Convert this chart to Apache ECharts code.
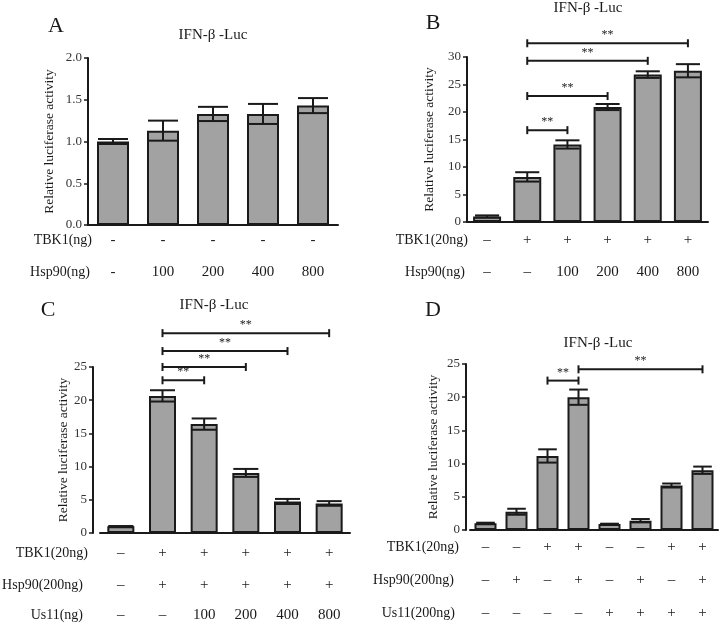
<!DOCTYPE html>
<html>
<head>
<meta charset="utf-8">
<script src="https://cdn.jsdelivr.net/npm/echarts@6/dist/echarts.min.js"></script>
<style>
  html, body { margin: 0; padding: 0; background: #fff; }
  #chart { width: 720px; height: 623px; }
</style>
</head>
<body>
<div id="chart"></div>
<script>
// ---- data ----
// panel A
var aMean = [1.0, 1.13, 1.33, 1.33, 1.43];
var aErr  = [0.03, 0.12, 0.085, 0.12, 0.09];
var aTbk1 = ['-', '-', '-', '-', '-'];
var aHsp90 = ['-', '100', '200', '400', '800'];

// panel B
var bMean = [1.0, 8.2, 14.1, 20.9, 26.8, 27.5];
var bErr  = [0.2, 0.85, 0.75, 0.55, 0.6, 1.2];
var bTbk1 = ['–', '+', '+', '+', '+', '+'];
var bHsp90 = ['–', '–', '100', '200', '400', '800'];
var bSig = [[1, 2, 16.7], [1, 3, 22.9], [1, 4, 29.3], [1, 5, 32.5]];

// panel C
var cMean = [1.0, 20.65, 16.4, 9.05, 4.75, 4.45];
var cErr  = [0.05, 0.85, 0.85, 0.6, 0.38, 0.35];
var cTbk1 = ['–', '+', '+', '+', '+', '+'];
var cHsp90 = ['–', '+', '+', '+', '+', '+'];
var cUs11 = ['–', '–', '100', '200', '400', '800'];
var cSig = [[1, 5, 30.1], [1, 4, 27.4], [1, 3, 25.0], [1, 2, 23.0]];

// panel D
var dMean = [1.0, 2.75, 11.15, 20.0, 0.9, 1.4, 6.7, 9.0];
var dErr  = [0.1, 0.45, 1.0, 1.15, 0.05, 0.25, 0.3, 0.55];
var dTbk1 = ['–', '–', '+', '+', '–', '–', '+', '+'];
var dHsp90 = ['–', '+', '–', '+', '–', '+', '–', '+'];
var dUs11 = ['–', '–', '–', '–', '+', '+', '+', '+'];
var dSig = [[2, 3, 22.5], [3, 7, 24.2]];

var FONT = 'Liberation Serif, Times New Roman, serif';
var INK = '#1a1a1a';

var grids = [], xAxes = [], yAxes = [], series = [];

// error bar: stem + two caps, drawn as filled rects
function errItem(params, api) {
  var lo = api.coord([api.value(0), api.value(1)]);
  var hi = api.coord([api.value(0), api.value(2)]);
  var half = api.size([1, 0])[0] * 0.3;
  var st = { fill: INK };
  return {
    type: 'group', children: [
      { type: 'rect', z2: 10, shape: { x: lo[0] - 1, y: hi[1], width: 2, height: lo[1] - hi[1] }, style: st },
      { type: 'rect', z2: 10, shape: { x: lo[0] - half, y: lo[1] - 1, width: half * 2, height: 2 }, style: st },
      { type: 'rect', z2: 10, shape: { x: hi[0] - half, y: hi[1] - 1, width: half * 2, height: 2 }, style: st }
    ]
  };
}

function sigItem(params, api) {
  var a = api.coord([api.value(0), api.value(2)]);
  var b = api.coord([api.value(1), api.value(2)]);
  var y = a[1];
  var st = { stroke: INK, lineWidth: 2 };
  return {
    type: 'group', children: [
      { type: 'line', shape: { x1: a[0], y1: y, x2: b[0], y2: y }, style: st },
      { type: 'line', shape: { x1: a[0], y1: y - 4, x2: a[0], y2: y + 4 }, style: st },
      { type: 'line', shape: { x1: b[0], y1: y - 4, x2: b[0], y2: y + 4 }, style: st },
      {
        type: 'text', x: (a[0] + b[0]) / 2, y: y - 2,
        style: { text: '**', align: 'center', verticalAlign: 'bottom', font: '12px ' + FONT, fill: INK }
      }
    ]
  };
}

// one panel = grid + main x axis + row-label x axes + y axis + series
function addPanel(p) {
  var gi = grids.length;
  grids.push({ left: p.left, top: p.top, width: p.width, height: p.height, containLabel: false, outerBoundsMode: 'none' });
  var cats = p.mean.map(function (v, i) { return String(i); });
  var xi = xAxes.length;
  xAxes.push({
    type: 'category', gridIndex: gi, data: cats, position: 'bottom',
    axisLine: { lineStyle: { color: INK, width: 2 } },
    axisTick: { alignWithLabel: true, length: 4, lineStyle: { color: INK, width: 1.5 } },
    axisLabel: { show: false }
  });
  p.rows.forEach(function (r) {
    xAxes.push({
      type: 'category', gridIndex: gi, data: r.labels, position: 'bottom', offset: r.offset,
      axisLine: { show: false }, axisTick: { show: false },
      axisLabel: { margin: 0, verticalAlign: 'middle', fontSize: 15, fontFamily: FONT, color: INK, interval: 0 },
      name: r.name, nameLocation: 'start', nameGap: r.gap,
      nameTextStyle: { fontSize: 14, fontFamily: FONT, color: INK, verticalAlign: 'middle' }
    });
  });
  var yi = yAxes.length;
  yAxes.push({
    type: 'value', gridIndex: gi, min: 0, max: p.max, interval: p.interval, offset: p.yOffset || 0,
    splitLine: { show: false },
    axisLine: { show: true, lineStyle: { color: INK, width: 2 } },
    axisTick: { show: true, length: 4, lineStyle: { color: INK, width: 1.5 } },
    axisLabel: { fontSize: 13, fontFamily: FONT, color: '#333', margin: 6,
      formatter: function (v) { return p.decimals ? v.toFixed(p.decimals) : String(v); } },
    name: 'Relative luciferase activity', nameLocation: 'middle', nameGap: p.nameGap,
    nameTextStyle: { fontSize: 13.5, fontFamily: FONT, color: INK }
  });
  series.push({
    type: 'bar', xAxisIndex: xi, yAxisIndex: yi, barWidth: p.barWidth, data: p.mean, z: 2,
    itemStyle: { color: '#a2a2a2', borderColor: INK, borderWidth: 2 }, silent: true
  });
  series.push({
    type: 'custom', xAxisIndex: xi, yAxisIndex: yi, renderItem: errItem, silent: true,
    encode: { x: 0, y: [1, 2] }, z: 10, clip: false,
    data: p.mean.map(function (m, i) { return [i, m - p.err[i], m + p.err[i]]; })
  });
  if (p.sig) {
    series.push({
      type: 'custom', xAxisIndex: xi, yAxisIndex: yi, renderItem: sigItem, silent: true,
      encode: { x: [0, 1], y: 2 }, clip: false, z: 10, data: p.sig
    });
  }
}

addPanel({
  left: 88, top: 58, width: 250, height: 167, max: 2, interval: 0.5, decimals: 1,
  nameGap: 32, barWidth: 32, mean: aMean, err: aErr,
  rows: [
    { name: 'TBK1(ng)', labels: aTbk1, offset: 15, gap: -4 },
    { name: 'Hsp90(ng)', labels: aHsp90, offset: 47, gap: -2 }
  ]
});
addPanel({
  left: 467, top: 57, width: 241, height: 165, max: 30, interval: 5,
  nameGap: 31, barWidth: 28, mean: bMean, err: bErr, sig: bSig,
  rows: [
    { name: 'TBK1(20ng)', labels: bTbk1, offset: 18, gap: -1 },
    { name: 'Hsp90(ng)', labels: bHsp90, offset: 50, gap: 2 }
  ]
});
addPanel({
  left: 100, top: 367, width: 250, height: 166, max: 25, interval: 5, yOffset: 7,
  nameGap: 23, barWidth: 27, mean: cMean, err: cErr, sig: cSig,
  rows: [
    { name: 'TBK1(20ng)', labels: cTbk1, offset: 20, gap: 12 },
    { name: 'Hsp90(200ng)', labels: cHsp90, offset: 52, gap: 17 },
    { name: 'Us11(ng)', labels: cUs11, offset: 82, gap: 17 }
  ]
});
addPanel({
  left: 470, top: 364, width: 248, height: 166, max: 25, interval: 5, yOffset: 4,
  nameGap: 26, barWidth: 22, mean: dMean, err: dErr, sig: dSig,
  rows: [
    { name: 'TBK1(20ng)', labels: dTbk1, offset: 17, gap: 11 },
    { name: 'Hsp90(200ng)', labels: dHsp90, offset: 50, gap: 16 },
    { name: 'Us11(200ng)', labels: dUs11, offset: 83, gap: 15 }
  ]
});

function label(x, y, text, size) {
  return {
    type: 'text', x: x, y: y, silent: true,
    style: { text: text, font: size + 'px ' + FONT, fill: INK, align: 'center', verticalAlign: 'middle',
      textAlign: 'center', textVerticalAlign: 'middle' }
  };
}

var chart = echarts.init(document.getElementById('chart'));
chart.setOption({
  animation: false,
  backgroundColor: '#fff',
  textStyle: { fontFamily: FONT },
  grid: grids,
  xAxis: xAxes,
  yAxis: yAxes,
  series: series,
  graphic: [
    label(56, 26, 'A', 22),
    label(433, 23, 'B', 22),
    label(48, 310, 'C', 22),
    label(433, 310, 'D', 22),
    label(213, 35, 'IFN-β -Luc', 15),
    label(588, 8, 'IFN-β -Luc', 15),
    label(214, 305, 'IFN-β -Luc', 15),
    label(598, 343, 'IFN-β -Luc', 15)
  ]
});
</script>
</body>
</html>
